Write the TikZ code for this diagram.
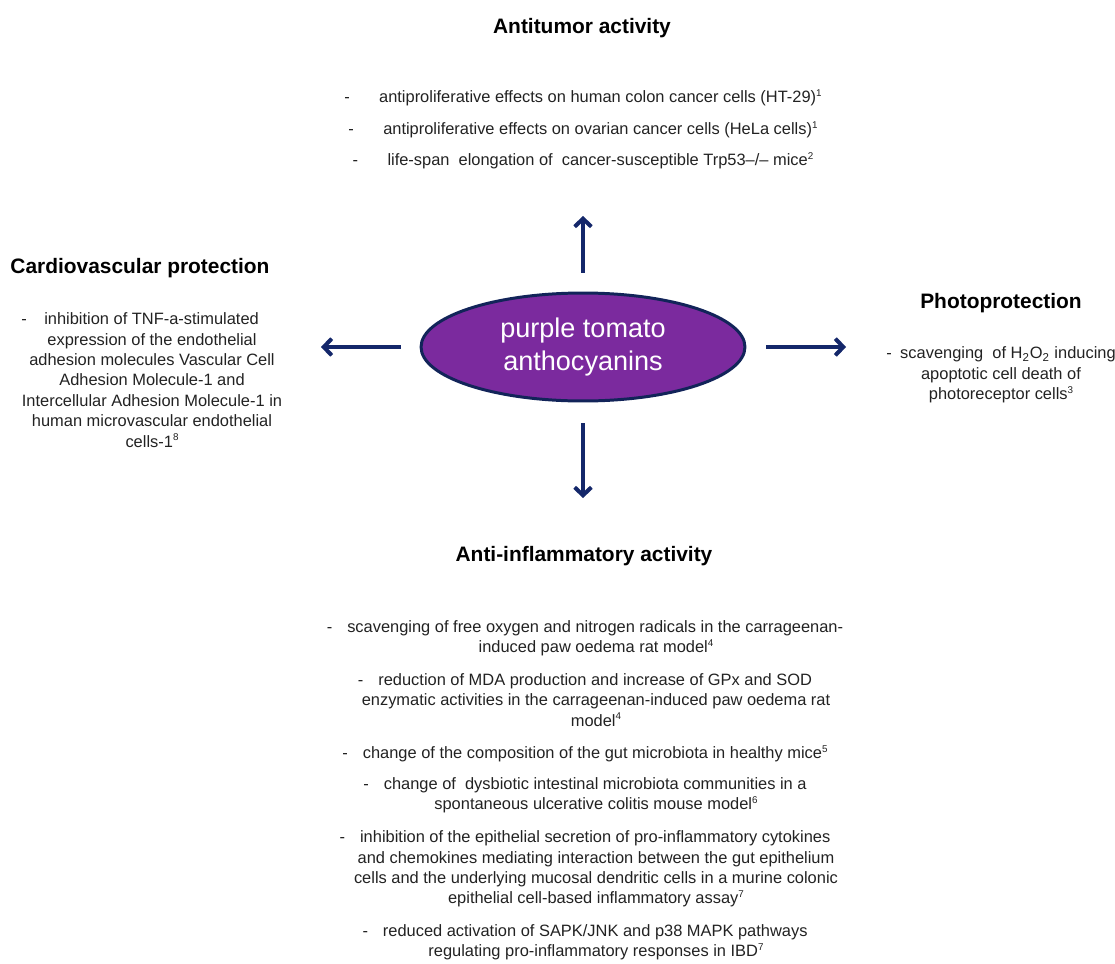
\documentclass[tikz,border=0pt]{standalone}
\usepackage{fontspec}
\setmainfont{Liberation Sans}
\usepackage[dvipsnames]{xcolor}
\usetikzlibrary{shapes.geometric,arrows.meta}

\definecolor{tomatopurple}{HTML}{7B2A9E}
\definecolor{ringnavy}{HTML}{122459}
\definecolor{arrownavy}{HTML}{14276A}
\definecolor{bodygray}{HTML}{222222}

\newcommand{\padend}[1]{\hspace*{#1}\mbox{}}
\newcommand{\refnum}[1]{\raisebox{3.6pt}{\fontsize{5.6}{6}\selectfont #1}}

\begin{document}
\begin{tikzpicture}[x=0.02cm, y=-0.02cm]
    \tikzset{head/.style={font=\fontsize{11.9}{14}\selectfont\bfseries, inner sep=0}}
    \tikzset{item/.style={font=\fontsize{9.35}{11.6}\selectfont, text=bodygray, align=center, inner sep=0}}
    \tikzset{effect/.style={draw=arrownavy, line width=2.3pt, -{Straight Barb[length=4.5pt,width=9.5pt]}}}

    \useasboundingbox (0,0) rectangle (1115,963);

    % centre
    \node[ellipse, draw=ringnavy, line width=1.7pt, fill=tomatopurple, minimum width=6.48cm, minimum height=2.16cm,
          inner sep=0, align=center, text=white, font=\fontsize{15.4}{18.7}\selectfont] (tomato) at (583,347)
          {purple tomato\\anthocyanins};

    % headings
    \node[head] (tumorhead) at (582,28) {Antitumor activity};
    \node[head] (cardiohead) at (140,268) {Cardiovascular protection};
    \node[head] (photohead) at (1001,303) {Photoprotection};
    \node[head] (inflamhead) at (584,556) {Anti-inflammatory activity};

    % antitumor
    \node[item] (tumor1) at (583,98) {-\hspace{16.7pt}antiproliferative effects on human colon cancer cells (HT-29)\refnum{1}};
    \node[item] (tumor2) at (583,130) {-\hspace{16.7pt}antiproliferative effects on ovarian cancer cells (HeLa cells)\refnum{1}};
    \node[item] (tumor3) at (583,161) {-\hspace{16.7pt}life-span\ \ elongation of\ \ cancer-susceptible Trp53–/– mice\refnum{2}};

    % cardiovascular
    \node[item] (cardio) at (152,380) {-\hspace{10pt}inhibition of TNF-a-stimulated\padend{13.6pt}\\
        expression of the endothelial\\
        adhesion molecules Vascular Cell\\
        Adhesion Molecule-1 and\\
        Intercellular Adhesion Molecule-1 in\\
        human microvascular endothelial\\
        cells-1\refnum{8}};

    % photoprotection
    \node[item] (photo) at (1001,375) {-\hspace{4.8pt}scavenging\ \ of H\textsubscript{2}O\textsubscript{2} inducing\\
        apoptotic cell death of\\
        photoreceptor cells\refnum{3}};

    % anti-inflammatory
    \node[item] (inflam1) at (596,638) {-\hspace{8.5pt}scavenging of free oxygen and nitrogen radicals in the carrageenan-\padend{12.5pt}\\
        induced paw oedema rat model\refnum{4}};
    \node[item] (inflam2) at (596,700) {-\hspace{8.5pt}reduction of MDA production and increase of GPx and SOD\padend{12.5pt}\\
        enzymatic activities in the carrageenan-induced paw oedema rat\\
        model\refnum{4}};
    \node[item] (inflam3) at (596,754) {-\hspace{8.5pt}change of the composition of the gut microbiota in healthy mice\refnum{5}\padend{12.5pt}};
    \node[item] (inflam4) at (596,795) {-\hspace{8.5pt}change of\ \ dysbiotic intestinal microbiota communities in a\padend{12.5pt}\\
        spontaneous ulcerative colitis mouse model\refnum{6}};
    \node[item] (inflam5) at (596,869) {-\hspace{8.5pt}inhibition of the epithelial secretion of pro-inflammatory cytokines\padend{12.5pt}\\
        and chemokines mediating interaction between the gut epithelium\\
        cells and the underlying mucosal dendritic cells in a murine colonic\\
        epithelial cell-based inflammatory assay\refnum{7}};
    \node[item] (inflam6) at (596,942) {-\hspace{8.5pt}reduced activation of SAPK/JNK and p38 MAPK pathways\padend{12.5pt}\\
        regulating pro-inflammatory responses in IBD\refnum{7}};

    % arrow tips
    \coordinate (tipN) at (583,216);
    \coordinate (tipS) at (583,498);
    \coordinate (tipW) at (321,347);
    \coordinate (tipE) at (846,347);

    \draw[effect, shorten <=10.8pt] (tomato.north) -- (tipN);
    \draw[effect, shorten <=11.9pt] (tomato.south) -- (tipS);
    \draw[effect, shorten <=10.8pt] (tomato.west) -- (tipW);
    \draw[effect, shorten <=11.3pt] (tomato.east) -- (tipE);
\end{tikzpicture}
\end{document}
